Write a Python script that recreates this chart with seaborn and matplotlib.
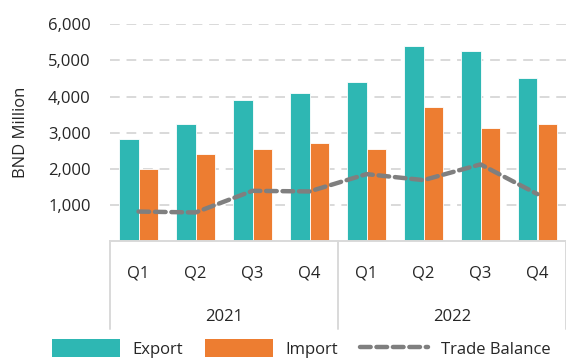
import numpy as np
import pandas as pd
import matplotlib
matplotlib.use("Agg")
import matplotlib.pyplot as plt
import seaborn as sns
from matplotlib.transforms import blended_transform_factory
from matplotlib.patches import Patch
from matplotlib.lines import Line2D

years = ["2021", "2022"]
quarters = ["Q1", "Q2", "Q3", "Q4"]
export = [2825, 3246, 3912, 4106, 4411, 5392, 5253, 4522]
imports = [2000, 2406, 2553, 2711, 2553, 3701, 3127, 3230]
trade_balance = [815, 790, 1389, 1372, 1852, 1686, 2121, 1297]
y_ticks = [1000, 2000, 3000, 4000, 5000, 6000]

periods = [f"{y} {q}" for y in years for q in quarters]
df = pd.DataFrame({
    "Period": periods * 2,
    "Value": export + imports,
    "Series": ["Export"] * len(periods) + ["Import"] * len(periods),
})

sns.set_theme(style="white")
plt.rcParams["font.family"] = ["Open Sans", "DejaVu Sans"]

TEAL = "#2EB7B3"
ORANGE = "#ED7D31"
GREY = "#7F7F7F"
GRID = "#D9D9D9"
TXT = "#262626"
FS = 12

fig = plt.figure(figsize=(5.66, 3.58), dpi=100)
ax = fig.add_axes([110 / 566, 117 / 358, 456 / 566, 216.7 / 358])

sns.barplot(data=df, x="Period", y="Value", hue="Series",
            palette={"Export": TEAL, "Import": ORANGE}, width=0.667, gap=0,
            saturation=1, edgecolor="white", linewidth=0.6, legend=False,
            errorbar=None, ax=ax, zorder=2)
sns.lineplot(x=periods, y=trade_balance, sort=False, color=GREY, lw=3.2,
             linestyle=(0, (2.4, 1.3)), dash_capstyle="round", ax=ax, zorder=3)

ax.set_xlim(-0.5, 7.5)
ax.set_ylim(0, 6000)
ax.set_yticks(y_ticks)
ax.set_yticklabels([f"{v:,}" for v in y_ticks], fontsize=FS, color=TXT)
ax.tick_params(axis="y", length=0, pad=14)
ax.tick_params(axis="x", length=0, labelbottom=False)
ax.set_xlabel("")
ax.set_ylabel("BND Million", fontsize=FS, color=TXT)
ax.yaxis.set_label_coords(-0.178, 0.5)

ax.yaxis.grid(True, color=GRID, linestyle=(0, (5, 3.5)), lw=1.4)
ax.set_axisbelow(True)
for s in ["left", "top", "right"]:
    ax.spines[s].set_visible(False)
ax.spines["bottom"].set_color(GRID)
ax.spines["bottom"].set_linewidth(1.4)

trans = blended_transform_factory(ax.transData, ax.transAxes)
for i, p in enumerate(periods):
    ax.text(i, -0.15, p.split()[1], transform=trans, ha="center", va="center",
            fontsize=FS, color=TXT)
for j, y in enumerate(years):
    ax.text(j * 4 + 1.5, -0.35, y, transform=trans, ha="center", va="center",
            fontsize=FS, color=TXT)
for xs in [-0.5, 3.5, 7.5]:
    ax.add_line(Line2D([xs, xs], [0, -0.406], transform=trans, color=GRID,
                       lw=1.4, clip_on=False))

handles = [Patch(facecolor=TEAL, edgecolor="none"),
           Patch(facecolor=ORANGE, edgecolor="none"),
           Line2D([], [], color=GREY, lw=3.2, linestyle=(0, (2.4, 1.3)),
                  dash_capstyle="round")]
fig.legend(handles, ["Export", "Import", "Trade Balance"], loc="center",
           bbox_to_anchor=(301 / 566, 1 - 348.5 / 358), ncol=3, frameon=False,
           fontsize=FS, handlelength=4.1, handleheight=1.3, handletextpad=0.75,
           columnspacing=1.3, labelcolor=TXT, borderpad=0.2)

fig.savefig("out.png", dpi=100)
